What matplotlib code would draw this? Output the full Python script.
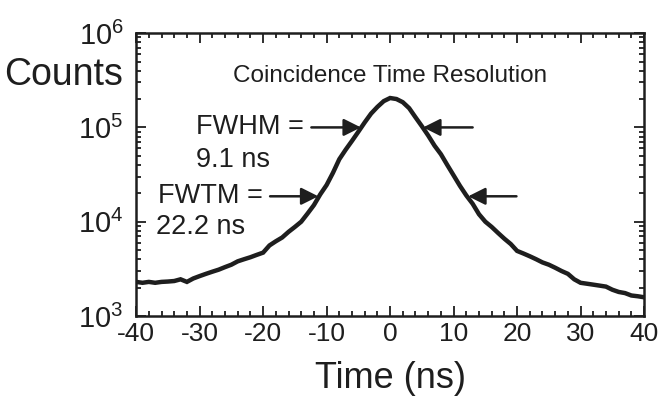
import matplotlib
matplotlib.use('Agg')
import matplotlib.pyplot as plt
import numpy as np
from matplotlib.ticker import MultipleLocator, LogLocator

plt.rcParams['font.family'] = ['Liberation Sans', 'DejaVu Sans']
plt.rcParams['mathtext.default'] = 'regular'
plt.rcParams['axes.unicode_minus'] = False

# time bins (ns) and counts
time_ns = np.arange(-40, 41, 1)
counts = [2300, 2250, 2300, 2250, 2300, 2320, 2350, 2450, 2300, 2500,
          2650, 2800, 2950, 3100, 3300, 3500, 3800, 4000, 4200, 4450,
          4700, 5600, 6200, 6800, 7800, 8800, 10000, 12200, 15000, 19500,
          24500, 33000, 46000, 58000, 72000, 90000, 113000, 140000, 165000, 190000,
          205000,
          200000, 185000, 160000, 128000, 103000, 82000, 64000, 52000, 40000, 31000,
          24000, 19000, 15500, 12000, 10000, 8800, 7600, 6600, 5800, 4900,
          4600, 4300, 4000, 3700, 3500, 3250, 3000, 2800, 2450, 2250,
          2200, 2150, 2100, 2050, 1900, 1800, 1750, 1650, 1620, 1580]

fwhm_label = 'FWHM ='
fwhm_value = '9.1 ns'
fwtm_label = 'FWTM ='
fwtm_value = '22.2 ns'
half_level = 1.0e5
tenth_level = 1.86e4
fwhm_edges = (-4.6, 5.2)
fwtm_edges = (-11.3, 12.3)

ink = '#1e1e1e'

fig = plt.figure(figsize=(6.64, 3.99), dpi=100)
ax = fig.add_axes([0.205, 0.208, 0.765, 0.709])

ax.plot(time_ns, counts, color=ink, lw=3.2, solid_joinstyle='miter')

ax.set_yscale('log')
ax.set_xlim(-40, 40)
ax.set_ylim(1e3, 1e6)
ax.xaxis.set_major_locator(MultipleLocator(10))
ax.xaxis.set_minor_locator(MultipleLocator(2))
ax.yaxis.set_major_locator(LogLocator(base=10, numticks=10))
ax.yaxis.set_minor_locator(LogLocator(base=10, subs=np.arange(2, 10), numticks=10))
ax.tick_params(which='both', direction='in', top=True, right=True, width=1.3, colors=ink)
ax.tick_params(which='major', length=7)
ax.tick_params(which='minor', length=3.5)
ax.tick_params(axis='x', labelsize=19, pad=4)
ax.tick_params(axis='y', labelsize=21, pad=9)
for s in ax.spines.values():
    s.set_linewidth(1.8)
    s.set_color(ink)

ax.set_xlabel('Time (ns)', fontsize=26, color=ink, labelpad=11)
fig.text(0.006, 0.812, 'Counts', fontsize=27, color=ink, va='center', ha='left')

ax.text(0.5, 0.85, 'Coincidence Time Resolution', transform=ax.transAxes,
        ha='center', va='center', fontsize=17.5, color=ink)

ax.text(-30.6, half_level, fwhm_label, ha='left', va='center', fontsize=19.5, color=ink)
ax.text(-30.6, 4.5e4, fwhm_value, ha='left', va='center', fontsize=19.5, color=ink)
ax.text(-36.6, tenth_level, fwtm_label, ha='left', va='center', fontsize=19.5, color=ink)
ax.text(-36.8, 8.8e3, fwtm_value, ha='left', va='center', fontsize=19.5, color=ink)

arrow = dict(arrowstyle='-|>', color=ink, lw=1.8, mutation_scale=26, shrinkA=0, shrinkB=0)
ax.annotate('', xy=(fwhm_edges[0], half_level), xytext=(fwhm_edges[0] - 7.8, half_level), arrowprops=arrow)
ax.annotate('', xy=(fwhm_edges[1], half_level), xytext=(fwhm_edges[1] + 7.8, half_level), arrowprops=arrow)
ax.annotate('', xy=(fwtm_edges[0], tenth_level), xytext=(fwtm_edges[0] - 7.6, tenth_level), arrowprops=arrow)
ax.annotate('', xy=(fwtm_edges[1], tenth_level), xytext=(fwtm_edges[1] + 7.6, tenth_level), arrowprops=arrow)

fig.savefig('out.png', dpi=100)
